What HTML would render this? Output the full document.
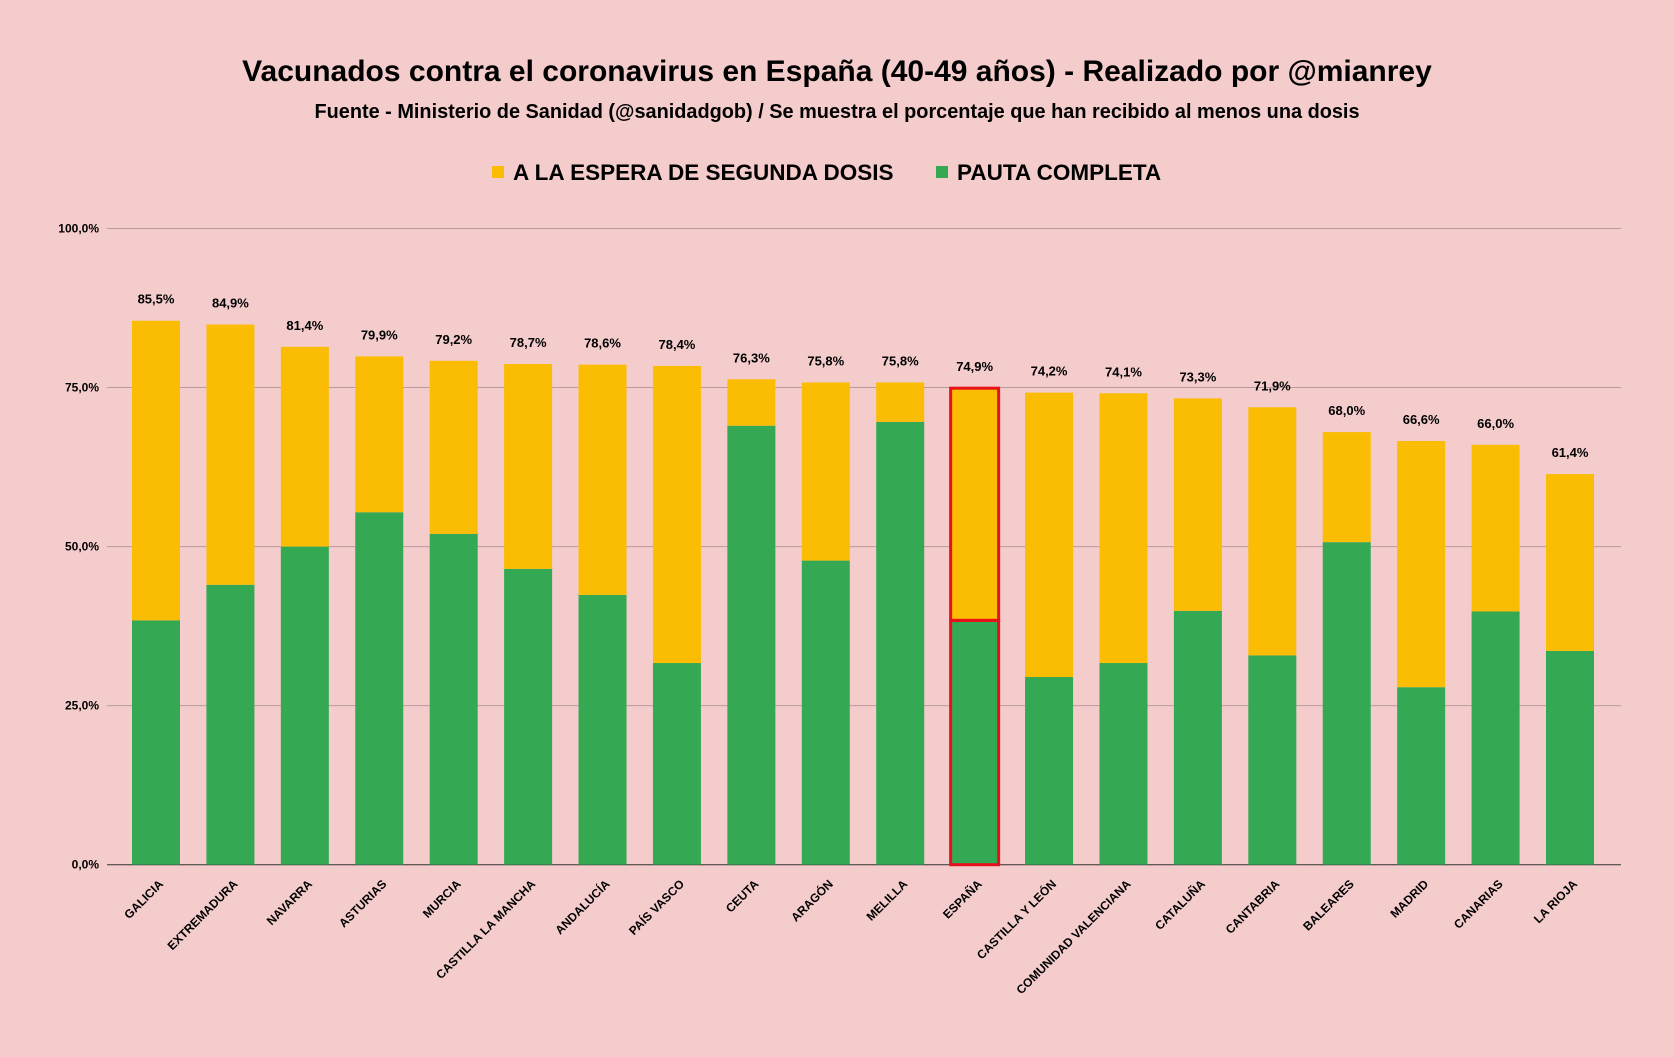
<!DOCTYPE html>
<html><head><meta charset="utf-8"><style>
html,body{margin:0;padding:0;background:#f4cccc;}
svg{display:block;font-family:"Liberation Sans",Arial,sans-serif;}
</style></head><body>
<svg id="chart" width="1674" height="1057" viewBox="0 0 1674 1057">
<rect width="1674" height="1057" fill="#f4cccc"/>
<text x="837" y="81" text-anchor="middle" font-size="30" font-weight="bold" fill="#000">Vacunados contra el coronavirus en España (40-49 años) - Realizado por @mianrey</text>
<text x="837" y="118" text-anchor="middle" font-size="19.9" font-weight="bold" fill="#000">Fuente - Ministerio de Sanidad (@sanidadgob) / Se muestra el porcentaje que han recibido al menos una dosis</text>
<g>
<rect x="492" y="166" width="12" height="12" fill="#fbbc04"/>
<text x="513" y="180" font-size="22.5" font-weight="bold" fill="#000">A LA ESPERA DE SEGUNDA DOSIS</text>
<rect x="936" y="166" width="12" height="12" fill="#34a853"/>
<text x="957" y="180" font-size="22.5" font-weight="bold" fill="#000">PAUTA COMPLETA</text>
</g>
<g id="plot"></g>
</svg>
<script>
const categories=["GALICIA","EXTREMADURA","NAVARRA","ASTURIAS","MURCIA","CASTILLA LA MANCHA","ANDALUCÍA","PAÍS VASCO","CEUTA","ARAGÓN","MELILLA","ESPAÑA","CASTILLA Y LEÓN","COMUNIDAD VALENCIANA","CATALUÑA","CANTABRIA","BALEARES","MADRID","CANARIAS","LA RIOJA"];
const totalValues=[85.5,84.9,81.4,79.9,79.2,78.7,78.6,78.4,76.3,75.8,75.8,74.9,74.2,74.1,73.3,71.9,68.0,66.6,66.0,61.4];
const completeValues=[38.4,44.0,50.0,55.4,52.0,46.5,42.4,31.7,69.0,47.8,69.6,38.4,29.5,31.7,39.9,32.9,50.7,27.9,39.8,33.6];
const yTicks=[0,25,50,75,100];
const highlight="ESPAÑA";

const NS="http://www.w3.org/2000/svg";
const plot=document.getElementById('plot');
const x0=107,x1=1621,yTop=228.5,yBot=864.7;
const y=v=>yBot-(v/100)*(yBot-yTop);
const firstC=156,lastC=1570;
const step=(lastC-firstC)/(categories.length-1);
const xc=i=>firstC+step*i;
const bw=48;
function mk(tag,attrs){const e=document.createElementNS(NS,tag);for(const k in attrs)e.setAttribute(k,attrs[k]);return e;}
const fmt=v=>v.toFixed(1).replace('.',',');

yTicks.forEach(t=>{
  const l=mk('line',{x1:x0,x2:x1,y1:y(t),y2:y(t),stroke:t===0?'#333':'#b89c9c','stroke-width':1});
  
  
  plot.appendChild(l);
  const tx=mk('text',{x:x0-8,y:y(t)+4,'text-anchor':'end','font-size':12,'font-weight':'bold'});
  tx.textContent=fmt(t)+'%';
  
  
  plot.appendChild(tx);
});

categories.forEach((c,i)=>{
  const cx=xc(i),tot=totalValues[i],comp=completeValues[i];
  const g=mk('rect',{x:cx-bw/2,y:y(comp),width:bw,height:y(0)-y(comp),fill:'#34a853'});
  
  
  plot.appendChild(g);
  const yb=mk('rect',{x:cx-bw/2,y:y(tot),width:bw,height:y(comp)-y(tot),fill:'#fbbc04'});
  
  
  plot.appendChild(yb);
  if(c===highlight){
    const r1=mk('rect',{x:cx-bw/2,y:y(tot),width:bw,height:y(comp)-y(tot),fill:'none',stroke:'#e8101a','stroke-width':3});
    
    
    plot.appendChild(r1);
    const r2=mk('rect',{x:cx-bw/2,y:y(comp),width:bw,height:y(0)-y(comp),fill:'none',stroke:'#e8101a','stroke-width':3});
    
    
    plot.appendChild(r2);
  }
  const lab=mk('text',{x:cx,y:y(tot)-17,'text-anchor':'middle','font-size':13,'font-weight':'bold'});
  lab.textContent=fmt(tot)+'%';
  
  
  plot.appendChild(lab);
  const xl=mk('text',{x:cx+8,y:y(0)+20,'text-anchor':'end','font-size':12,'font-weight':'bold',transform:`rotate(-45 ${cx+8} ${y(0)+20})`});
  xl.textContent=c;
  
  
  plot.appendChild(xl);
});
</script>
</body></html>
